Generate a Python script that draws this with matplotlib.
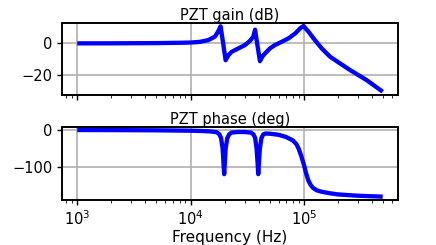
import matplotlib
matplotlib.use("Agg")
import matplotlib.pyplot as plt

# Gain curve (Hz, dB)
gain_freq = [1000, 2000, 5000, 8000, 10000, 12000, 14300, 16400, 17500, 18400,
             19400, 20400, 21600, 23100, 26400, 30200, 33500, 35800, 37100, 39000,
             41000, 43000, 45500, 50200, 55500, 63900, 73100, 84200, 93000, 99300,
             110000, 125000, 144000, 171000, 256000, 360000, 497000]
gain_db = [0.0, 0.02, 0.15, 0.35, 0.5, 0.9, 2.0, 4.2, 7.4, 10.7,
           0.0, -10.6, -7.4, -5.3, -3.2, -1.1, 1.6, 4.2, 8.6, -1.5,
           -11.2, -8.3, -6.3, -3.2, -1.1, 1.0, 3.1, 6.3, 9.5, 10.9,
           7.3, 2.1, -3.2, -8.5, -16.8, -23.2, -30.4]

# Phase curve (Hz, deg)
phase_freq = [1000, 2000, 5000, 10000, 13000, 15000, 17000, 18000, 18600, 19200,
              19550, 19800, 20050, 20400, 21100, 21900, 23000, 26000, 30000, 34000,
              36000, 37200, 38300, 39100, 39600, 40100, 40900, 42200, 43800, 46000,
              50000, 60000, 70000, 80000, 86000, 90000, 95000, 100000, 105000, 110000,
              115000, 121000, 130000, 144000, 170000, 200000, 300000, 497000]
phase_deg = [-0.2, -0.4, -1.0, -2.0, -3.0, -4.0, -6.0, -12, -22, -50,
             -90, -118, -90, -50, -22, -12, -7, -5.5, -5.5, -7,
             -12, -22, -50, -90, -118, -90, -50, -22, -12, -9.5,
             -10, -13, -19, -28, -38, -50, -70, -92, -117, -136,
             -147, -155, -161, -165, -169, -172, -175.5, -178]

titles = ["PZT gain (dB)", "PZT phase (deg)"]
xlabel = "Frequency (Hz)"

fig = plt.figure(figsize=(4.36, 2.45), dpi=100)
ax1 = fig.add_axes([0.1422, 0.6122, 0.7706, 0.2951])
ax2 = fig.add_axes([0.1422, 0.1837, 0.7706, 0.2992], sharex=ax1)

for ax, f, v, t in [(ax1, gain_freq, gain_db, titles[0]),
                    (ax2, phase_freq, phase_deg, titles[1])]:
    ax.semilogx(f, v, color="#0000ff", linewidth=3.1, solid_capstyle="butt")
    ax.grid(True, which="major", color="#b0b0b0", linewidth=1.2)
    ax.set_title(t, fontsize=10.5, pad=2)
    ax.tick_params(labelsize=10.5, width=1.0)
    for s in ax.spines.values():
        s.set_linewidth(1.4)

ax1.set_yticks([0, -20])
ax2.set_yticks([0, -100])
ax1.tick_params(axis="x", which="both", labelbottom=False)
ax2.set_xlabel(xlabel, fontsize=11, labelpad=1)

fig.savefig("out.png", dpi=100)
